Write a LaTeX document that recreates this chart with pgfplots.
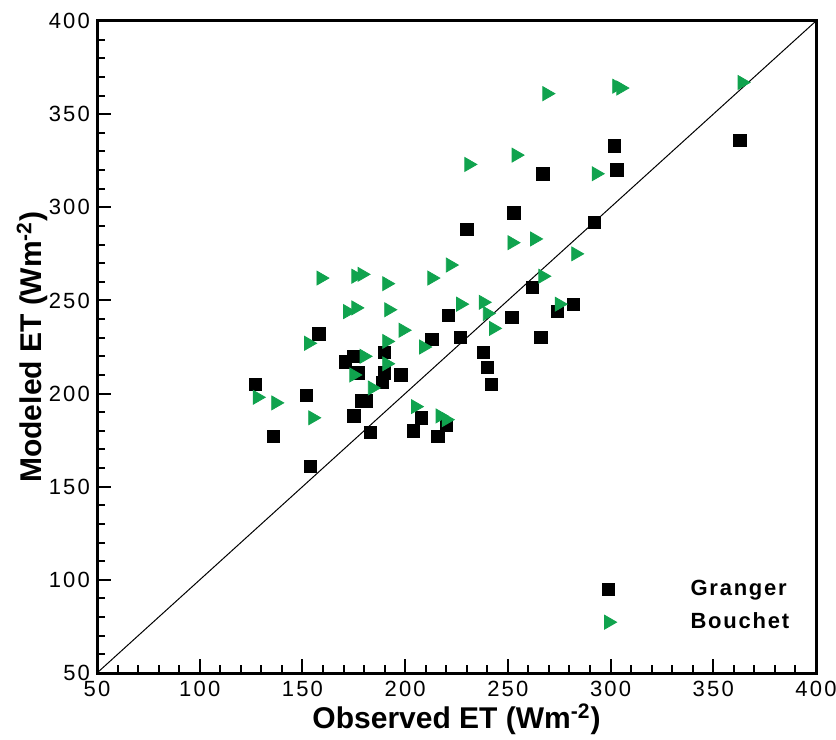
\documentclass[border=0pt]{standalone}
\usepackage{fontspec}
\setmainfont{Liberation Sans}
\usepackage{pgfplots}
\pgfplotsset{compat=1.18}
\definecolor{bgreen}{RGB}{16,163,78}

\begin{document}
\begin{tikzpicture}
\begin{axis}[
  name=ax,
  scale only axis,
  width=359.5pt, height=326pt,
  xmin=50, xmax=400, ymin=50, ymax=400,
  xtick={50,100,...,400}, ytick={50,100,...,400},
  minor tick num=4,
  tick align=inside,
  xtick pos=bottom, ytick pos=left,
  major tick length=7pt, minor tick length=4pt,
  every tick/.style={black, line width=1pt},
  axis line style={line width=1.5pt},
  /pgf/number format/assume math mode=true,
  ticklabel style={font=\fontsize{11}{13}\selectfont\addfontfeature{LetterSpace=10}},
  xticklabel style={inner sep=0pt, yshift=-4pt},
  xlabel={Observed ET (Wm\textsuperscript{-2})},
  ylabel={Modeled ET (Wm\textsuperscript{-2})},
  label style={font=\fontsize{15}{17}\selectfont\bfseries, inner sep=0pt},
  xlabel style={at={(axis description cs:0.5,-0.071)}, anchor=center},
  ylabel style={at={(axis description cs:-0.09,0.5)}, anchor=center},
  legend style={draw=none, fill=none, at={(0.694,0.155)}, anchor=north west,
    font=\fontsize{11}{13}\selectfont\bfseries\addfontfeature{LetterSpace=8},
    row sep=3pt, column sep=35pt},
  legend cell align=left,
]
\addplot[only marks, mark=square*, mark size=3.1pt, black] coordinates {
  (127,205) (136,177) (152,199) (154,161) (158,232) (171,217) (175,220)
  (177,211) (175,188) (179,196) (181,196) (183,179) (190,222) (190,211)
  (189,206) (198,210) (204,180) (208,187) (216,177) (220,183) (213,229)
  (227,230) (221,242) (230,288) (238,222) (240,214) (242,205) (252,241)
  (253,297) (262,257) (266,230) (267,318) (274,244) (282,248) (292,292)
  (302,333) (303,320) (363,336)
};
\addlegendentry{Granger}
\addplot[only marks, mark=triangle*, mark size=4pt, color=bgreen,
  mark options={rotate=-90}] coordinates {
  (128,198) (137,195) (153,227) (155,187) (159,262) (172,244) (176,246)
  (176,263) (179,264) (175,210) (180,220) (184,203) (191,259) (192,245)
  (191,228) (191,216) (199,234) (209,225) (205,193) (217,188) (220,186)
  (213,262) (222,269) (227,248) (231,323) (238,249) (240,243) (243,235)
  (252,281) (254,328) (263,283) (267,263) (269,361) (275,248) (283,275)
  (293,318) (303,365) (305,364) (364,367)
};
\addlegendentry{Bouchet}
\addplot[black, line width=0.5pt, forget plot] coordinates {(50,50) (400,400)};
\end{axis}
\pgfresetboundingbox
\path ([shift={(-48.5pt,-33pt)}]ax.south west) rectangle ([shift={(10pt,10.5pt)}]ax.north east);
\end{tikzpicture}
\end{document}
